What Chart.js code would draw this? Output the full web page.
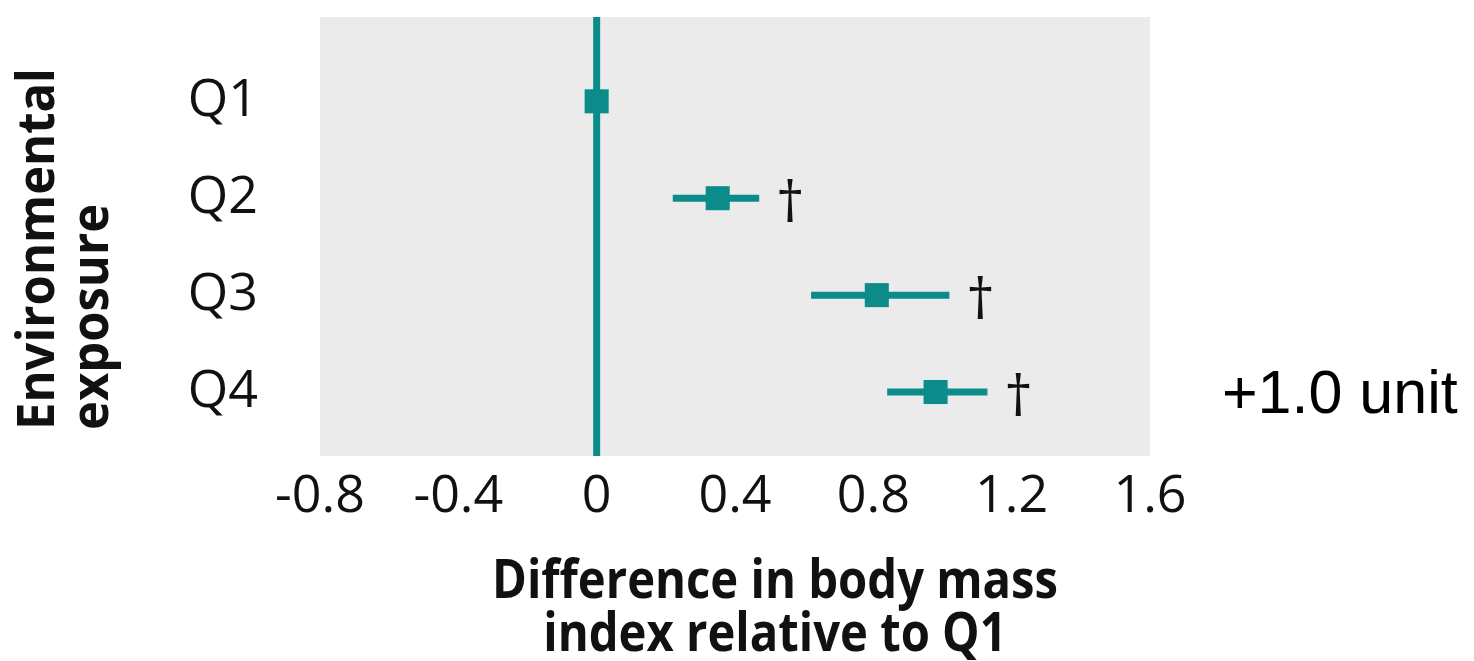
<!DOCTYPE html>
<html>
<head>
<meta charset="utf-8">
<title>Difference in body mass index relative to Q1</title>
<script src="https://cdn.jsdelivr.net/npm/chart.js@4.4.1/dist/chart.umd.min.js"></script>
<style>
  html, body { margin: 0; padding: 0; background: #fff; }
</style>
</head>
<body>
<canvas id="forest" width="1474" height="661"></canvas>
<script>
(function () {
  "use strict";

  // data
  var quartiles = ["Q1", "Q2", "Q3", "Q4"];
  var estimate = [0, 0.35, 0.81, 0.98];
  var ciLow = [null, 0.22, 0.62, 0.84];
  var ciHigh = [null, 0.47, 1.02, 1.13];
  var significant = [false, true, true, true];
  var xTicks = [-0.8, -0.4, 0, 0.4, 0.8, 1.2, 1.6];

  var TEAL = "#0b8b8a";
  var GRAY = "#ebebeb";
  var INK = "#111";
  var SANS = "'Open Sans', 'Noto Sans', sans-serif";

  var Y_MIN = 0.13;
  var Y_MAX = 4.66;

  function point(x, i) {
    return { x: x, y: i + 1 };
  }

  var datasets = [
    {
      type: "scatter",
      data: estimate.map(point),
      pointStyle: "rect",
      pointRadius: 17,
      backgroundColor: TEAL,
      borderWidth: 0,
    },
  ];

  quartiles.forEach(function (q, i) {
    if (ciLow[i] === null) return;
    datasets.push({
      type: "line",
      data: [point(ciLow[i], i), point(ciHigh[i], i)],
      borderColor: TEAL,
      borderWidth: 7,
      pointRadius: 0,
    });
  });

  // reference line at zero
  datasets.push({
    type: "line",
    data: [{ x: 0, y: Y_MIN }, { x: 0, y: Y_MAX }],
    borderColor: TEAL,
    borderWidth: 7,
    pointRadius: 0,
  });

  var backdrop = {
    id: "backdrop",
    beforeDraw: function (chart) {
      var a = chart.chartArea;
      var ctx = chart.ctx;
      ctx.save();
      ctx.fillStyle = GRAY;
      ctx.fillRect(a.left, a.top, a.right - a.left, a.bottom - a.top);
      ctx.restore();
    },
  };

  function fitted(ctx, text, width) {
    return width / ctx.measureText(text).width;
  }

  var labels = {
    id: "labels",
    afterDatasetsDraw: function (chart) {
      var ctx = chart.ctx;
      var xs = chart.scales.x;
      var ys = chart.scales.y;
      ctx.save();
      ctx.fillStyle = INK;
      ctx.font = "56px " + SANS;
      ctx.textAlign = "center";
      ctx.textBaseline = "middle";
      significant.forEach(function (s, i) {
        if (!s) return;
        ctx.fillText(
          "\u2020",
          xs.getPixelForValue(ciHigh[i]) + 31,
          ys.getPixelForValue(i + 1) + 8
        );
      });
      ctx.restore();
    },
    afterDraw: function (chart) {
      var ctx = chart.ctx;
      var k;
      ctx.save();
      ctx.fillStyle = INK;

      // y title, rotated, both lines starting at the bottom
      ctx.save();
      ctx.translate(54, 430);
      ctx.rotate(-Math.PI / 2);
      ctx.font = "bold 52px " + SANS;
      ctx.textAlign = "left";
      ctx.textBaseline = "alphabetic";
      k = fitted(ctx, "Environmental", 362);
      ctx.scale(k, 1);
      ctx.fillText("Environmental", 0, 0);
      ctx.fillText("exposure", 0, 54);
      ctx.restore();

      // x title
      ctx.save();
      ctx.font = "bold 54px " + SANS;
      ctx.textAlign = "center";
      ctx.textBaseline = "alphabetic";
      k = fitted(ctx, "Difference in body mass", 566);
      ctx.translate(775, 0);
      ctx.scale(k, 1);
      ctx.fillText("Difference in body mass", 0, 598);
      ctx.fillText("index relative to Q1", 0, 651);
      ctx.restore();

      // side note
      ctx.font = "61px 'Liberation Sans', Arial, sans-serif";
      ctx.textAlign = "left";
      ctx.textBaseline = "alphabetic";
      ctx.fillStyle = "#000";
      ctx.fillText("+1.0 unit", 1222, 413);
      ctx.restore();
    },
  };

  function noEdgePadding(scale) {
    scale.paddingTop = 0;
    scale.paddingBottom = 0;
    scale.paddingLeft = 0;
    scale.paddingRight = 0;
  }

  new Chart(document.getElementById("forest"), {
    data: { datasets: datasets },
    plugins: [backdrop, labels],
    options: {
      responsive: false,
      animation: false,
      events: [],
      layout: { padding: { top: 12, right: 324, bottom: 0, left: 0 } },
      plugins: { legend: { display: false }, tooltip: { enabled: false } },
      scales: {
        x: {
          type: "linear",
          min: -0.8,
          max: 1.6,
          afterBuildTicks: function (scale) {
            scale.ticks = xTicks.map(function (v) {
              return { value: v };
            });
          },
          afterFit: function (scale) {
            scale.height = 205;
            noEdgePadding(scale);
          },
          ticks: {
            padding: 10,
            color: INK,
            font: { family: SANS, size: 52 },
            callback: function (v) {
              return String(v);
            },
          },
          grid: { display: false, drawTicks: false },
          border: { display: false },
        },
        y: {
          type: "linear",
          reverse: true,
          min: Y_MIN,
          max: Y_MAX,
          afterBuildTicks: function (scale) {
            scale.ticks = quartiles.map(function (q, i) {
              return { value: i + 1 };
            });
          },
          afterFit: function (scale) {
            scale.width = 320;
            noEdgePadding(scale);
          },
          ticks: {
            padding: 62,
            color: INK,
            font: { family: SANS, size: 52 },
            callback: function (v) {
              return quartiles[v - 1];
            },
          },
          grid: { display: false, drawTicks: false },
          border: { display: false },
        },
      },
    },
  });
})();
</script>
</body>
</html>
